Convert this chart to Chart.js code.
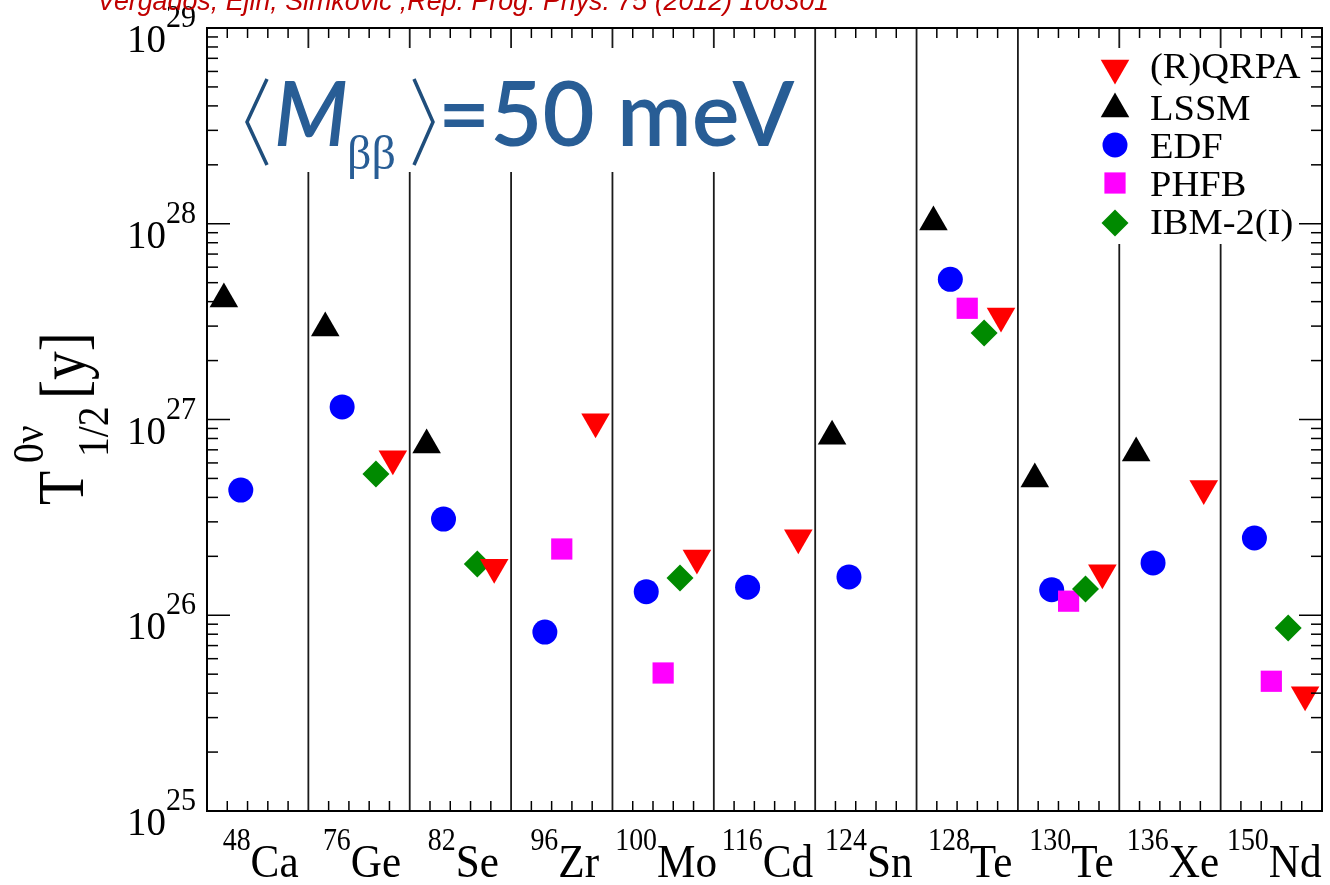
<!DOCTYPE html>
<html>
<head>
<meta charset="utf-8">
<script src="https://cdn.jsdelivr.net/npm/chart.js@4.4.1/dist/chart.umd.min.js"></script>
<style>
html, body { margin: 0; padding: 0; background: #fff; }
canvas { display: block; }
</style>
</head>
<body>
<canvas id="halfLifeChart" width="1330" height="885"></canvas>
<script>
// isotopes (mass number + element)
const massNumbers = ['48', '76', '82', '96', '100', '116', '124', '128', '130', '136', '150'];
const elements = ['Ca', 'Ge', 'Se', 'Zr', 'Mo', 'Cd', 'Sn', 'Te', 'Te', 'Xe', 'Nd'];

// T1/2 [y] per model, null = no calculation
const qrpaValues = [null, 6.3e26, 1.76e26, 9.75e26, 1.96e26, 2.49e26, null, 3.38e27, 1.65e26, 4.44e26, 3.92e25];
const lssmValues = [4.13e27, 2.93e27, 7.41e26, null, null, null, 8.2e26, 1.02e28, 4.96e26, 6.75e26, null];
const edfValues = [4.36e26, 1.16e27, 3.1e26, 8.2e25, 1.32e26, 1.39e26, 1.57e26, 5.2e27, 1.35e26, 1.85e26, 2.48e26];
const phfbValues = [null, null, null, 2.18e26, 5.07e25, null, null, 3.7e27, 1.18e26, null, 4.6e25];
const ibmValues = [null, 5.27e26, 1.83e26, null, 1.55e26, null, null, 2.77e27, 1.36e26, null, 8.6e25];

// y axis decades (10^n)
const decadeExponents = [25, 26, 27, 28, 29];

const modelNames = ['(R)QRPA', 'LSSM', 'EDF', 'PHFB', 'IBM-2(I)'];

// position of each model inside its isotope column
function toPoints(values, offset) {
    return values
        .map((v, i) => v == null ? null : { x: i + offset, y: v })
        .filter(p => p !== null);
}

const models = [
    { label: modelNames[0], values: qrpaValues, offset: 5 / 6, color: '#ff0000', style: 'triangle', rotation: 180, radius: 16.5, order: 1 },
    { label: modelNames[1], values: lssmValues, offset: 1 / 6, color: '#000000', style: 'triangle', rotation: 0, radius: 16.5, order: 4 },
    { label: modelNames[2], values: edfValues, offset: 2 / 6, color: '#0000ff', style: 'circle', rotation: 0, radius: 12.5, order: 5 },
    { label: modelNames[3], values: phfbValues, offset: 3 / 6, color: '#ff00ff', style: 'rect', rotation: 0, radius: 15, order: 3 },
    { label: modelNames[4], values: ibmValues, offset: 4 / 6, color: '#008a00', style: 'rectRot', rotation: 0, radius: 13.5, order: 2 }
];

const datasets = models.map(m => ({
    label: m.label,
    data: toPoints(m.values, m.offset),
    pointStyle: m.style,
    pointRotation: m.rotation,
    pointRadius: m.radius,
    pointHoverRadius: m.radius,
    pointBackgroundColor: m.color,
    pointBorderColor: m.color,
    pointBorderWidth: 0,
    showLine: false,
    order: m.order
}));

const SERIF = '"Liberation Serif", "DejaVu Serif", serif';

// text with horizontal squeeze
function txt(ctx, s, x, y, size, sx, align, font) {
    ctx.save();
    ctx.translate(x, y);
    ctx.scale(sx, 1);
    ctx.font = size + 'px ' + (font || SERIF);
    ctx.textAlign = align || 'left';
    ctx.textBaseline = 'alphabetic';
    ctx.fillText(s, 0, 0);
    const w = ctx.measureText(s).width * sx;
    ctx.restore();
    return w;
}

function drawMarker(ctx, style, rot, r, x, y) {
    ctx.beginPath();
    if (style === 'circle') {
        ctx.arc(x, y, r, 0, Math.PI * 2);
    } else if (style === 'rect') {
        const s = r * Math.SQRT1_2;
        ctx.rect(x - s, y - s, 2 * s, 2 * s);
    } else if (style === 'rectRot') {
        ctx.moveTo(x, y - r); ctx.lineTo(x + r, y); ctx.lineTo(x, y + r); ctx.lineTo(x - r, y);
    } else {
        let a = rot * Math.PI / 180;
        for (let k = 0; k < 3; k++) {
            ctx.lineTo(x + Math.sin(a) * r, y - Math.cos(a) * r);
            a += Math.PI * 2 / 3;
        }
    }
    ctx.closePath();
    ctx.fill();
}

function line(ctx, x1, y1, x2, y2) {
    ctx.beginPath();
    ctx.moveTo(x1, y1);
    ctx.lineTo(x2, y2);
    ctx.stroke();
}

const framePlugin = {
    id: 'framePlugin',
    beforeDatasetsDraw(chart) {
        const { ctx, chartArea: a, scales: { x } } = chart;
        ctx.save();
        // isotope separators
        ctx.strokeStyle = '#1a1a1a';
        ctx.lineWidth = 1.8;
        for (let i = 1; i < massNumbers.length; i++) {
            const px = x.getPixelForValue(i);
            line(ctx, px, a.top, px, a.bottom);
        }
        // white boxes behind annotation and legend
        ctx.fillStyle = '#ffffff';
        ctx.fillRect(224, 48, 584, 124);
        ctx.fillRect(1075, 48, 236, 196);
        ctx.restore();
    },
    afterDatasetsDraw(chart) {
        const { ctx, chartArea: a, scales: { x, y } } = chart;
        ctx.save();
        ctx.strokeStyle = '#000';
        ctx.fillStyle = '#000';

        // ticks, left and right
        ctx.lineWidth = 1.5;
        decadeExponents.forEach(n => {
            const py = y.getPixelForValue(Math.pow(10, n));
            line(ctx, a.left, py, a.left + 23, py);
            line(ctx, a.right, py, a.right - 23, py);
            if (n < 29) {
                for (let k = 2; k <= 9; k++) {
                    const my = y.getPixelForValue(k * Math.pow(10, n));
                    line(ctx, a.left, my, a.left + 11, my);
                    line(ctx, a.right, my, a.right - 11, my);
                }
            }
        });
        // ticks, top and bottom
        for (let i = 0; i < massNumbers.length; i++) {
            for (let k = 1; k <= 4; k++) {
                const px = x.getPixelForValue(i + k / 5);
                line(ctx, px, a.bottom, px, a.bottom - 10);
                line(ctx, px, a.top, px, a.top + 10);
            }
        }

        // frame
        ctx.lineWidth = 2;
        ctx.strokeRect(a.left, a.top, a.right - a.left, a.bottom - a.top);

        // y tick labels 10^n
        decadeExponents.forEach(n => {
            const py = y.getPixelForValue(Math.pow(10, n));
            txt(ctx, '10', 166, py + 24, 41, 0.95, 'right');
            txt(ctx, String(n), 166, py - 1, 32, 0.94, 'left');
        });

        // x labels  ^A El
        massNumbers.forEach((mass, i) => {
            const cx = x.getPixelForValue(i + 0.5);
            ctx.save();
            ctx.font = '31px ' + SERIF;
            const w1 = ctx.measureText(mass).width * 0.9;
            ctx.font = '47px ' + SERIF;
            const w2 = ctx.measureText(elements[i]).width * 0.92;
            ctx.restore();
            const x0 = cx - (w1 + w2) / 2 + 3;
            txt(ctx, mass, x0, 850, 31, 0.9, 'left');
            txt(ctx, elements[i], x0 + w1, 877, 47, 0.92, 'left');
        });

        // y axis title T^{0v}_{1/2}[y]
        ctx.save();
        ctx.translate(0, 505);
        ctx.rotate(-Math.PI / 2);
        txt(ctx, 'T', 0, 83, 66, 0.85, 'left');
        txt(ctx, '0\u03bd', 42, 43, 44, 0.9, 'left');
        txt(ctx, '1/2', 48, 108, 44, 0.9, 'left');
        txt(ctx, '[y]', 106, 85, 66, 0.87, 'left');
        ctx.restore();

        // legend
        models.forEach((m, i) => {
            const rowY = [68, 109, 145, 183, 223][i];
            const baseY = [78, 120, 158, 196, 234][i];
            ctx.fillStyle = m.color;
            drawMarker(ctx, m.style, m.rotation, m.radius, 1115, rowY);
            ctx.fillStyle = '#000';
            txt(ctx, m.label, 1150, baseY, 35, 1.1, 'left');
        });

        // <M_bb>=50 meV
        const blue = '#285d95';
        ctx.strokeStyle = '#1f4e7c';
        ctx.lineWidth = 3.5;
        ctx.beginPath();
        ctx.moveTo(267, 79); ctx.lineTo(247, 122); ctx.lineTo(267, 165);
        ctx.stroke();
        ctx.beginPath();
        ctx.moveTo(414, 79); ctx.lineTo(433, 122); ctx.lineTo(414, 165);
        ctx.stroke();
        ctx.fillStyle = blue;
        ctx.textAlign = 'left';
        ctx.textBaseline = 'alphabetic';
        ctx.font = 'italic 600 90px Lato, "DejaVu Sans", sans-serif';
        ctx.fillText('M', 274, 146, 74);
        ctx.font = '48px ' + SERIF;
        ctx.fillText('\u03b2\u03b2', 347, 169, 58);
        ctx.font = '600 90px Lato, "DejaVu Sans", sans-serif';
        ctx.fillText('=50 meV', 438, 146, 362);

        // reference, cut at top of page
        ctx.fillStyle = '#c00000';
        ctx.font = 'italic 27px "Liberation Sans", Arial, sans-serif';
        ctx.fillText('Vergados, Ejiri, \u0160imkovic ,Rep. Prog. Phys. 75 (2012) 106301', 97, 10, 732);

        ctx.restore();
    }
};

new Chart(document.getElementById('halfLifeChart').getContext('2d'), {
    type: 'scatter',
    data: { datasets: datasets },
    options: {
        responsive: false,
        animation: false,
        devicePixelRatio: 1,
        layout: { autoPadding: false, padding: { left: 207, right: 8, top: 28, bottom: 74 } },
        plugins: {
            legend: { display: false },
            tooltip: { enabled: false }
        },
        scales: {
            x: { type: 'linear', min: 0, max: 11, display: false },
            y: { type: 'logarithmic', min: 1e25, max: 1e29, display: false }
        }
    },
    plugins: [framePlugin]
});
</script>
</body>
</html>
